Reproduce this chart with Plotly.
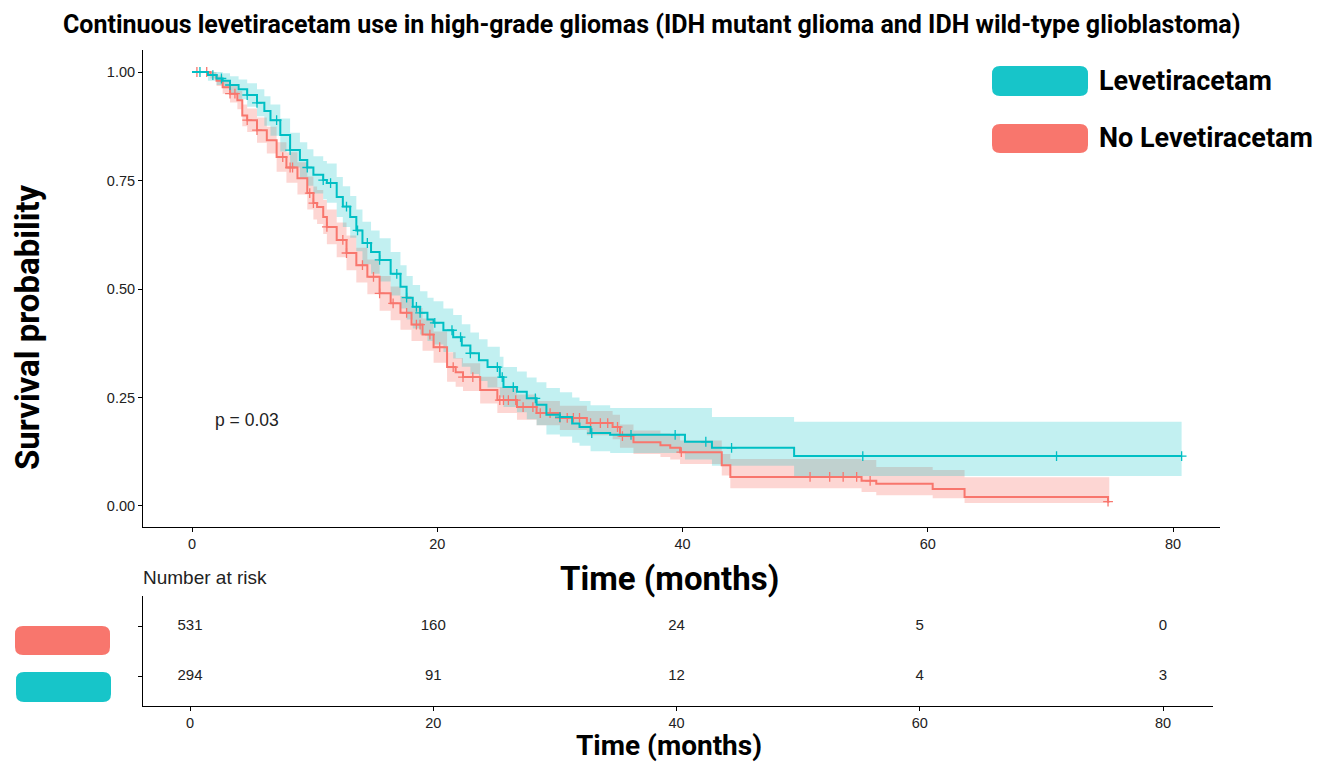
import plotly.graph_objects as go

# ---------------- data ----------------
lev_time = [0, 1.3, 2.0, 2.5, 3.1, 3.8, 4.5, 5.3, 5.9, 6.4, 7.2, 8.0, 8.8, 9.4, 9.9, 10.7, 11.0,
            11.8, 12.3, 12.9, 13.4, 13.9, 14.6, 15.3, 16.2, 17.0, 17.5, 18.0, 18.6, 19.2, 19.7,
            20.5, 21.3, 22.0, 22.7, 23.4, 24.1, 25.1, 25.4, 26.5, 27.3, 28.1, 28.9, 30.0, 31.0,
            31.6, 32.5, 34.1, 40.2, 42.4, 49.1]
lev_surv = [1.0, 0.993, 0.985, 0.98, 0.97, 0.96, 0.947, 0.929, 0.91, 0.889, 0.855, 0.82, 0.797,
            0.78, 0.763, 0.751, 0.744, 0.712, 0.69, 0.666, 0.635, 0.606, 0.585, 0.567, 0.535,
            0.505, 0.48, 0.459, 0.445, 0.43, 0.422, 0.405, 0.389, 0.37, 0.352, 0.336, 0.32,
            0.297, 0.274, 0.263, 0.248, 0.233, 0.21, 0.205, 0.19, 0.182, 0.168, 0.164, 0.148,
            0.134, 0.115]
lev_lower = [1.0, 0.98, 0.97, 0.963, 0.95, 0.937, 0.92, 0.898, 0.876, 0.853, 0.817, 0.78, 0.756,
             0.738, 0.72, 0.707, 0.699, 0.666, 0.643, 0.618, 0.587, 0.557, 0.535, 0.517, 0.485,
             0.455, 0.43, 0.409, 0.395, 0.38, 0.372, 0.355, 0.34, 0.321, 0.304, 0.288, 0.273,
             0.25, 0.228, 0.216, 0.2, 0.186, 0.165, 0.16, 0.146, 0.139, 0.126, 0.122, 0.107,
             0.093, 0.069]
lev_upper = [1.0, 1.0, 1.0, 0.997, 0.99, 0.983, 0.974, 0.96, 0.944, 0.925, 0.893, 0.86, 0.838,
             0.822, 0.806, 0.795, 0.789, 0.758, 0.737, 0.714, 0.683, 0.655, 0.635, 0.617, 0.585,
             0.555, 0.53, 0.509, 0.495, 0.48, 0.472, 0.455, 0.44, 0.419, 0.4, 0.384, 0.367,
             0.344, 0.32, 0.31, 0.296, 0.285, 0.272, 0.262, 0.25, 0.242, 0.232, 0.226, 0.226,
             0.205, 0.194]
lev_end = 80.7
lev_censor = [0.65, 1.7, 2.4, 3.1, 4.5, 5.3, 6.9, 8.0, 9.4, 10.7, 11.3, 12.6, 13.5, 14.3, 15.3,
              16.7, 17.5, 18.3, 18.6, 19.8, 21.2, 21.9, 22.7, 24.9, 25.3, 26.2, 28.0, 30.0,
              32.6, 35.8, 39.4, 41.9, 44.0, 54.7, 70.5, 80.7]

nolev_time = [0, 1.5, 2.0, 2.5, 3.1, 3.7, 4.1, 4.5, 5.3, 6.1, 6.9, 7.7, 8.6, 9.4, 9.9, 10.2,
              10.7, 11.0, 11.8, 12.6, 13.4, 14.3, 15.3, 16.2, 17.0, 17.9, 18.8, 19.7, 20.8,
              21.5, 22.1, 23.5, 24.9, 26.5, 28.1, 30.0, 32.2, 34.3, 34.9, 36.0, 38.2, 39.0,
              39.8, 43.2, 43.9, 54.6, 55.8, 60.4, 63.0, 74.7]
nolev_surv = [1.0, 0.993, 0.98, 0.965, 0.95, 0.935, 0.9, 0.889, 0.866, 0.843, 0.804, 0.78,
              0.755, 0.721, 0.698, 0.689, 0.666, 0.643, 0.613, 0.583, 0.555, 0.528, 0.49,
              0.467, 0.445, 0.418, 0.395, 0.366, 0.32, 0.308, 0.297, 0.267, 0.244, 0.228,
              0.214, 0.203, 0.191, 0.182, 0.161, 0.147, 0.14, 0.134, 0.124, 0.094, 0.067,
              0.058, 0.051, 0.039, 0.021, 0.01]
nolev_lower = [1.0, 0.985, 0.968, 0.95, 0.93, 0.914, 0.875, 0.862, 0.837, 0.812, 0.77, 0.745,
               0.718, 0.683, 0.66, 0.65, 0.627, 0.603, 0.573, 0.543, 0.515, 0.488, 0.45, 0.428,
               0.406, 0.38, 0.358, 0.33, 0.286, 0.275, 0.265, 0.236, 0.214, 0.199, 0.186,
               0.175, 0.163, 0.154, 0.134, 0.12, 0.113, 0.107, 0.097, 0.07, 0.041, 0.032,
               0.025, 0.018, 0.007, 0.007]
nolev_upper = [1.0, 1.0, 0.992, 0.98, 0.968, 0.956, 0.925, 0.916, 0.895, 0.874, 0.838, 0.815,
               0.792, 0.759, 0.736, 0.728, 0.705, 0.683, 0.653, 0.623, 0.595, 0.568, 0.53,
               0.506, 0.484, 0.456, 0.432, 0.402, 0.354, 0.341, 0.329, 0.298, 0.274, 0.257,
               0.242, 0.231, 0.219, 0.21, 0.188, 0.174, 0.167, 0.161, 0.151, 0.12, 0.108,
               0.106, 0.09, 0.083, 0.066, 0.066]
nolev_end = 74.8
nolev_censor = [0.4, 1.2, 3.1, 3.5, 4.5, 5.3, 7.4, 8.0, 8.2, 9.6, 9.9, 11.0, 12.3, 12.6, 13.9,
                14.8, 15.3, 16.4, 17.5, 18.3, 18.6, 19.4, 20.2, 21.3, 22.1, 22.9, 25.1, 25.4,
                25.8, 26.4, 27.0, 27.8, 28.4, 29.2, 30.0, 30.6, 31.1, 31.6, 32.5, 33.3, 33.9,
                34.7, 35.1, 39.9, 50.4, 52.0, 53.1, 54.2, 55.3, 74.7]

risk_times = [0, 20, 40, 60, 80]
risk_nolev = [531, 160, 24, 5, 0]
risk_lev = [294, 91, 12, 4, 3]

group_names = ["Levetiracetam", "No Levetiracetam"]
p_text = "p = 0.03"

TEAL = "#00BFC4"
RED = "#F8766D"
TEAL_KEY = "rgb(23,197,201)"
RED_KEY = "rgb(248,118,109)"


def value_at(times, vals, t):
    v = vals[0]
    for ti, vi in zip(times, vals):
        if ti <= t:
            v = vi
        else:
            break
    return v


fig = go.Figure()

groups = [
    (nolev_time, nolev_surv, nolev_lower, nolev_upper, nolev_end, nolev_censor, RED,
     "rgba(248,118,109,0.30)"),
    (lev_time, lev_surv, lev_lower, lev_upper, lev_end, lev_censor, TEAL,
     "rgba(0,191,196,0.24)"),
]

# confidence bands
for t, s, lo, up, end, cen, col, fillcol in groups:
    tx = t + [end]
    fig.add_trace(go.Scatter(x=tx, y=lo + [lo[-1]], mode="lines", line=dict(width=0, shape="hv"),
                             hoverinfo="skip", showlegend=False, xaxis="x", yaxis="y"))
    fig.add_trace(go.Scatter(x=tx, y=up + [up[-1]], mode="lines", line=dict(width=0, shape="hv"),
                             fill="tonexty", fillcolor=fillcol, hoverinfo="skip",
                             showlegend=False, xaxis="x", yaxis="y"))

# survival lines + censor marks
for t, s, lo, up, end, cen, col, fillcol in groups:
    fig.add_trace(go.Scatter(x=t + [end], y=s + [s[-1]], mode="lines",
                             line=dict(color=col, width=2, shape="hv"),
                             showlegend=False, xaxis="x", yaxis="y"))
    fig.add_trace(go.Scatter(x=cen, y=[value_at(t, s, c) for c in cen], mode="markers",
                             marker=dict(symbol="cross-thin", size=7,
                                         line=dict(color=col, width=1.3)),
                             showlegend=False, xaxis="x", yaxis="y"))

# risk table
small = "Liberation Sans, Arial"
fig.add_trace(go.Scatter(x=risk_times, y=[2] * len(risk_times), mode="text",
                         text=[str(v) for v in risk_nolev],
                         textfont=dict(family=small, size=15, color="#222"),
                         showlegend=False, xaxis="x2", yaxis="y2"))
fig.add_trace(go.Scatter(x=risk_times, y=[1] * len(risk_times), mode="text",
                         text=[str(v) for v in risk_lev],
                         textfont=dict(family=small, size=15, color="#222"),
                         showlegend=False, xaxis="x2", yaxis="y2"))

W, H = 1326, 763


def px(x):
    return x / W


def py(y):
    return 1 - y / H


tickfont = dict(family=small, size=14.5, color="#222")
axis_common = dict(showgrid=False, zeroline=False, showline=True, linecolor="black",
                   linewidth=1, ticks="outside", ticklen=4, tickcolor="black",
                   tickfont=tickfont, fixedrange=True)

fig.update_layout(
    width=W, height=H, autosize=False,
    margin=dict(l=0, r=0, t=0, b=0),
    paper_bgcolor="white", plot_bgcolor="white",
    xaxis=dict(domain=[px(143), px(1220)], range=[-3.996, 83.83], anchor="y",
               tickvals=[0, 20, 40, 60, 80], **axis_common),
    yaxis=dict(domain=[py(527), py(50)], range=[-0.0484, 1.0507], anchor="x",
               tickvals=[0, 0.25, 0.5, 0.75, 1.0],
               ticktext=["0.00", "0.25", "0.50", "0.75", "1.00"], **axis_common),
    xaxis2=dict(domain=[px(143), px(1213)], range=[-3.864, 84.11], anchor="y2",
                tickvals=[0, 20, 40, 60, 80], **axis_common),
    yaxis2=dict(domain=[py(706), py(596)], range=[0.4, 2.6], anchor="x2",
                tickvals=[1, 2], ticktext=["", ""], **axis_common),
)

bold = "Roboto, Arial"
annotations = [
    dict(text="<b>Continuous levetiracetam use in high-grade gliomas (IDH mutant glioma and IDH wild-type glioblastoma)</b>",
         x=px(651), y=py(24), xref="paper", yref="paper", showarrow=False,
         font=dict(family=bold, size=25, color="black"), xanchor="center", yanchor="middle"),
    dict(text="<b>Survival probability</b>", x=px(27), y=py(327), xref="paper", yref="paper",
         showarrow=False, textangle=-90, font=dict(family=bold, size=33, color="black"),
         xanchor="center", yanchor="middle"),
    dict(text="<b>Time (months)</b>", x=px(669), y=py(578), xref="paper", yref="paper",
         showarrow=False, font=dict(family=bold, size=33, color="black"),
         xanchor="center", yanchor="middle"),
    dict(text="<b>Time (months)</b>", x=px(669), y=py(745), xref="paper", yref="paper",
         showarrow=False, font=dict(family=bold, size=28, color="black"),
         xanchor="center", yanchor="middle"),
    dict(text="Number at risk", x=px(141), y=py(577), xref="paper", yref="paper",
         showarrow=False, font=dict(family=small, size=19, color="#222"),
         xanchor="left", yanchor="middle"),
    dict(text=p_text, x=1.7, y=0.198, xref="x", yref="y", showarrow=False,
         font=dict(family=small, size=17.5, color="#222"),
         xanchor="left", yanchor="middle"),
    dict(text="<b>" + group_names[0] + "</b>", x=px(1097), y=py(81), xref="paper", yref="paper",
         showarrow=False, font=dict(family=bold, size=27, color="black"),
         xanchor="left", yanchor="middle"),
    dict(text="<b>" + group_names[1] + "</b>", x=px(1097), y=py(138), xref="paper", yref="paper",
         showarrow=False, font=dict(family=bold, size=27, color="black"),
         xanchor="left", yanchor="middle"),
]
fig.update_layout(annotations=annotations)


def rounded_rect(x0, y0, x1, y1, r, color):
    X0, X1 = px(x0), px(x1)
    Y0, Y1 = py(y1), py(y0)  # bottom, top in paper
    rx, ry = r / W, r / H
    path = (f"M {X0+rx},{Y0} L {X1-rx},{Y0} Q {X1},{Y0} {X1},{Y0+ry} "
            f"L {X1},{Y1-ry} Q {X1},{Y1} {X1-rx},{Y1} L {X0+rx},{Y1} "
            f"Q {X0},{Y1} {X0},{Y1-ry} L {X0},{Y0+ry} Q {X0},{Y0} {X0+rx},{Y0} Z")
    return dict(type="path", path=path, xref="paper", yref="paper", fillcolor=color,
                line=dict(width=0), layer="above")


fig.update_layout(shapes=[
    rounded_rect(992, 66, 1088, 96, 8, TEAL_KEY),
    rounded_rect(992, 124, 1088, 153, 8, RED_KEY),
    rounded_rect(15, 626, 110, 655, 8, RED_KEY),
    rounded_rect(16, 672, 111, 702, 8, TEAL_KEY),
])

fig.write_html("out.html", config={"displayModeBar": False},
               post_script="document.body.style.margin='0';document.body.style.overflow='hidden';")
